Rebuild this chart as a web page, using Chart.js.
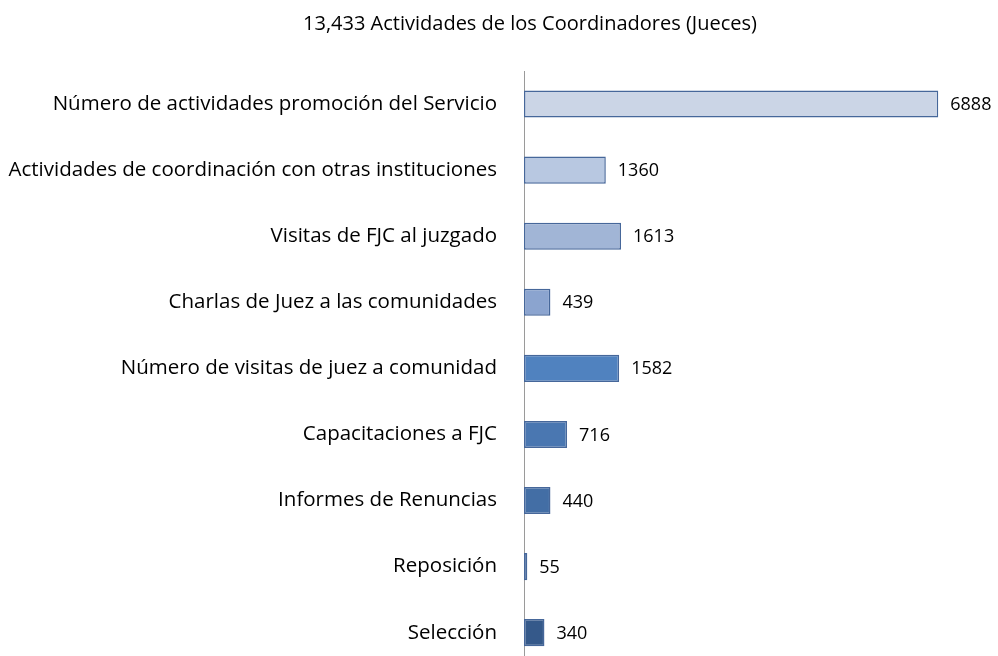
<!DOCTYPE html>
<html>
<head>
<meta charset="utf-8">
<script src="https://cdn.jsdelivr.net/npm/chart.js@4"></script>
<style>
  html, body { margin: 0; padding: 0; background: #fff; overflow: hidden; }
  #wrap { width: 998px; height: 656px; overflow: hidden; }
  #myChart { display: block; width: 998px; height: 705px; }
</style>
</head>
<body>
<div id="wrap"><canvas id="myChart" width="998" height="705"></canvas></div>
<script>
/** Daten */
var titulo = '13,433 Actividades de los Coordinadores (Jueces)';
var categorias = [
  'Número de actividades promoción del Servicio',
  'Actividades de coordinación con otras instituciones',
  'Visitas de FJC al juzgado',
  'Charlas de Juez a las comunidades',
  'Número de visitas de juez a comunidad',
  'Capacitaciones a FJC',
  'Informes de Renuncias',
  'Reposición',
  'Selección'
];
var valores = [6888, 1360, 1613, 439, 1582, 716, 440, 55, 340];
var colores = ['#CBD5E6', '#B8C8E1', '#A1B5D6', '#8BA4CF', '#5082BF', '#4A77B1', '#436EA5', '#3C6499', '#35598A'];

var fuente = "'Open Sans', 'Noto Sans', sans-serif";

/** Titel + Werte */
var extras = {
  id: 'extras',
  afterDraw: function(chart){
    var ctx = chart.ctx;
    ctx.save();
    ctx.fillStyle = '#000';
    ctx.font = '20px ' + fuente;
    ctx.textAlign = 'center';
    ctx.textBaseline = 'middle';
    ctx.fillText(titulo, 530, 24);

    ctx.font = '18px ' + fuente;
    ctx.textAlign = 'left';
    chart.getDatasetMeta(0).data.forEach(function(bar, i){
      ctx.fillText(String(valores[i]), bar.x + 12, bar.y + 1);
    });
    ctx.restore();
  }
};

var ctx = document.getElementById('myChart').getContext('2d');
var myChart = new Chart(ctx, {
  type: 'bar',
  data: {
    labels: categorias,
    datasets: [{
      data: valores,
      backgroundColor: colores,
      borderColor: '#46679A',
      borderWidth: 1.5,
      borderSkipped: false,
      categoryPercentage: 1,
      barPercentage: 0.41
    }]
  },
  options: {
    indexAxis: 'y',
    responsive: false,
    maintainAspectRatio: false,
    animation: false,
    layout: { padding: { top: 71, right: 53, bottom: 5, left: 0 } },
    plugins: {
      legend: { display: false },
      tooltip: { enabled: false }
    },
    scales: {
      x: { display: false, min: 0, max: 7000 },
      y: {
        afterFit: function(scale){ scale.width = 524; },
        grid: { display: false, drawTicks: false },
        border: { display: true, color: '#9A9A9A', width: 1 },
        ticks: {
          padding: 27,
          color: '#000',
          font: { family: fuente, size: 20.5 }
        }
      }
    }
  },
  plugins: [extras]
});
</script>
</body>
</html>
